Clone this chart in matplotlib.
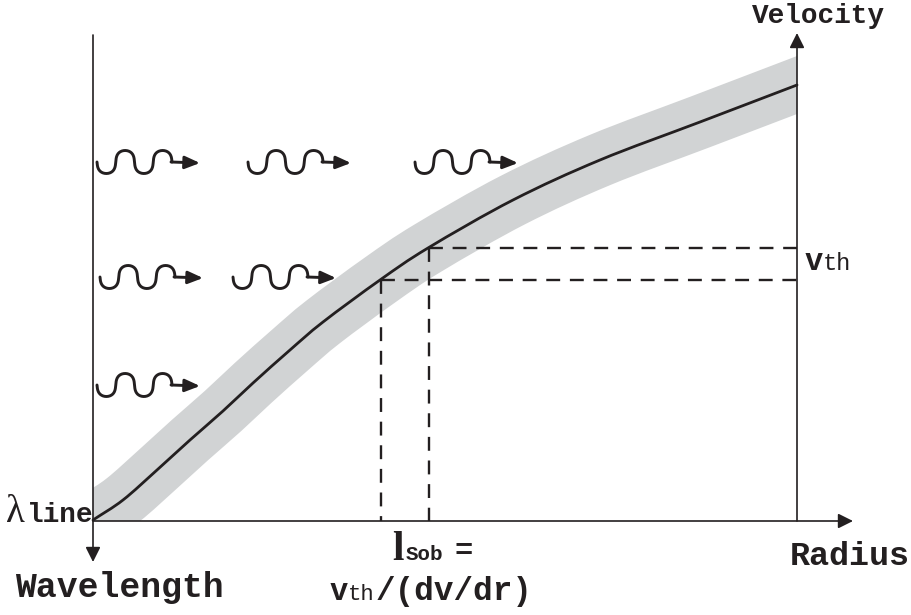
import numpy as np
import matplotlib
matplotlib.use('Agg')
import matplotlib.pyplot as plt
from matplotlib.patches import Rectangle, PathPatch
from matplotlib.path import Path

plt.rcParams['lines.scale_dashes'] = False

# velocity law, read in figure pixels (x to the right, y downward)
curve_x = [93, 123, 157, 190, 223, 253, 290, 323, 380, 428, 513, 600, 700, 797]
curve_y = [520, 500, 470, 440, 411, 383, 350, 322, 280, 248, 200, 160, 122, 85]

# two points on the curve where the thermal width is marked
mark_x = [381, 429]
mark_y = [280, 248]

# photon packets: row heights and where each squiggle starts
photon_rows = [162, 277, 385]
photon_starts = [[97, 248, 415], [100, 233], [97]]

ink = '#231f20'
band_grey = '#d1d3d4'

# frame geometry
x0, x1, y_axis = 93, 797, 521

fig = plt.figure(figsize=(9.11, 6.15), dpi=100)
ax = fig.add_axes([0, 0, 1, 1])
ax.set_xlim(0, 911)
ax.set_ylim(615, 0)
ax.axis('off')


def smooth_path(xs, ys):
    # Catmull-Rom through the points, written as cubic Bezier segments
    p = np.column_stack([xs, ys]).astype(float)
    ext = np.vstack([2 * p[0] - p[1], p, 2 * p[-1] - p[-2]])
    verts = [p[0]]
    codes = [Path.MOVETO]
    for i in range(1, len(ext) - 2):
        a, b, c, d = ext[i - 1], ext[i], ext[i + 1], ext[i + 2]
        verts += [b + (c - a) / 6, c - (d - b) / 6, c]
        codes += [Path.CURVE4] * 3
    return Path(verts, codes)


# grey band: a thick stroke along the curve, extended past the ends and clipped to the frame
cx = np.array(curve_x, float)
cy = np.array(curve_y, float)
d0 = np.array([cx[0] - cx[1], cy[0] - cy[1]])
d1 = np.array([cx[-1] - cx[-2], cy[-1] - cy[-2]])
d0 /= np.hypot(*d0)
d1 /= np.hypot(*d1)
bx = np.concatenate([[cx[0] + 80 * d0[0]], cx, [cx[-1] + 80 * d1[0]]])
by = np.concatenate([[cy[0] + 80 * d0[1]], cy, [cy[-1] + 80 * d1[1]]])
band = PathPatch(smooth_path(bx, by), facecolor='none', edgecolor=band_grey,
                 lw=39, capstyle='butt', joinstyle='round', zorder=1)
ax.add_patch(band)
band.set_clip_path(Rectangle((x0, 0), x1 - x0, y_axis, transform=ax.transData))

# the velocity curve itself
ax.add_patch(PathPatch(smooth_path(curve_x, curve_y), facecolor='none',
                       edgecolor=ink, lw=2.0, capstyle='round', zorder=3))

# dashed construction lines
dash = (0, (10, 7))
for mx, my in zip(mark_x, mark_y):
    ax.plot([mx, x1], [my, my], color=ink, lw=1.7, linestyle=dash, zorder=2)
    ax.plot([mx, mx], [my, y_axis], color=ink, lw=1.7, linestyle=dash, zorder=2)


# axes with arrowheads
def arrow(start, tip, lw=1.2, scale=10):
    ax.annotate('', xy=tip, xytext=start, zorder=4,
                arrowprops=dict(arrowstyle='-|>,head_length=0.9,head_width=0.45',
                                mutation_scale=scale, color=ink, lw=lw,
                                shrinkA=0, shrinkB=0))


arrow((x0, 35), (x0, 562))
arrow((x0, y_axis), (853, y_axis))
arrow((x1, y_axis), (x1, 33))

# photon squiggles: two round wiggles then a short arrow
lam, amp, k = 37.5, 11.5, 0.42
phi = np.linspace(0, 4 * np.pi, 240)
wx = lam / (2 * np.pi) * (phi - k * np.sin(2 * phi))
wy = amp * np.sin(phi)
for row_y, starts in zip(photon_rows, photon_starts):
    for sx in starts:
        ax.plot(sx + wx, row_y + wy, color=ink, lw=2.1, zorder=5,
                solid_capstyle='round')
        ax.annotate('', xy=(sx + 103, row_y + 1), xytext=(sx + 2 * lam - 1, row_y),
                    zorder=5,
                    arrowprops=dict(arrowstyle='-|>,head_length=1.0,head_width=0.42',
                                    mutation_scale=9, color=ink, lw=2.1,
                                    shrinkA=0, shrinkB=0))


# labels
def put(x, y, s, size, weight='bold', family='Liberation Mono'):
    ax.text(x, y, s, fontsize=size, fontweight=weight, family=family,
            ha='left', va='baseline', color=ink, zorder=6)


put(752, 23, 'Velocity', 20)
put(790, 565, 'Radius', 24)
put(15, 597, 'Wavelength', 25)
put(6, 522, 'λ', 28, weight='normal', family='Liberation Serif')
put(27, 522, 'line', 20)
put(805, 270, 'v', 22)
put(823, 270, 'th', 17, weight='normal')
put(392, 560, 'l', 30, family='Liberation Serif')
put(406, 560, 'Sob', 15)
put(455, 560, '=', 22)
put(330, 600, 'v', 22)
put(348, 600, 'th', 16, weight='normal')
put(376, 600, '/(dv/dr)', 23.5)

fig.savefig('out.png', dpi=100)
